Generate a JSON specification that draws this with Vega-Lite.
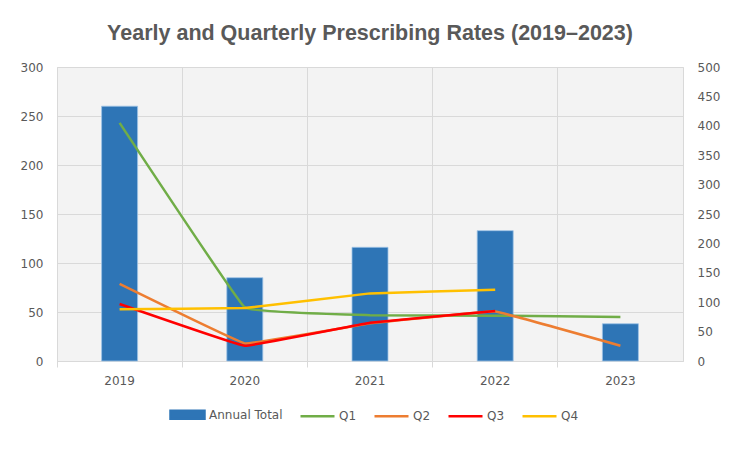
{
  "$schema": "https://vega.github.io/schema/vega-lite/v6.json",
  "width": 626,
  "height": 294,
  "autosize": {"type": "none"},
  "padding": {"left": 57, "top": 67, "right": 57, "bottom": 90},
  "background": "white",
  "title": {
    "text": "Yearly and Quarterly Prescribing Rates (2019–2023)",
    "font": "Liberation Sans",
    "fontSize": 21.5,
    "fontWeight": "bold",
    "color": "#595959",
    "anchor": "middle",
    "offset": 17
  },
  "data": {
    "values": [
      {"year": "2019", "series": "Annual Total", "value": 260},
      {"year": "2020", "series": "Annual Total", "value": 85},
      {"year": "2021", "series": "Annual Total", "value": 116},
      {"year": "2022", "series": "Annual Total", "value": 133},
      {"year": "2023", "series": "Annual Total", "value": 38},
      {"year": "2019", "series": "Q1", "value": 405},
      {"year": "2020", "series": "Q1", "value": 91},
      {"year": "2021", "series": "Q1", "value": 78},
      {"year": "2022", "series": "Q1", "value": 77},
      {"year": "2023", "series": "Q1", "value": 75},
      {"year": "2019", "series": "Q2", "value": 131},
      {"year": "2020", "series": "Q2", "value": 30},
      {"year": "2021", "series": "Q2", "value": 64},
      {"year": "2022", "series": "Q2", "value": 84},
      {"year": "2023", "series": "Q2", "value": 26},
      {"year": "2019", "series": "Q3", "value": 97},
      {"year": "2020", "series": "Q3", "value": 26},
      {"year": "2021", "series": "Q3", "value": 65},
      {"year": "2022", "series": "Q3", "value": 85},
      {"year": "2019", "series": "Q4", "value": 88},
      {"year": "2020", "series": "Q4", "value": 90},
      {"year": "2021", "series": "Q4", "value": 115},
      {"year": "2022", "series": "Q4", "value": 121}
    ]
  },
  "encoding": {
    "x": {
      "field": "year",
      "type": "ordinal",
      "scale": {"paddingInner": 0, "paddingOuter": 0},
      "axis": {
        "title": null,
        "labelAngle": 0,
        "bandPosition": 0,
        "grid": true,
        "gridColor": "#d9d9d9",
        "domainColor": "#d9d9d9",
        "tickColor": "#d9d9d9",
        "tickSize": 6,
        "labelPadding": 8,
        "labelFont": "DejaVu Sans",
        "labelFontSize": 12,
        "labelColor": "#595959"
      }
    },
    "color": {
      "field": "series",
      "type": "nominal",
      "scale": {
        "domain": ["Annual Total", "Q1", "Q2", "Q3", "Q4"],
        "range": ["#2E75B6", "#70AD47", "#ED7D31", "#FF0000", "#FFC000"]
      },
      "legend": {
        "orient": "none",
        "legendX": 112,
        "legendY": 329,
        "direction": "horizontal",
        "title": null,
        "labelFont": "DejaVu Sans",
        "labelFontSize": 12,
        "labelColor": "#595959",
        "labelOffset": 3,
        "symbolSize": 1156,
        "columnPadding": 12,
        "encode": {
          "symbols": {
            "update": {
              "shape": {"signal": "datum.value === 'Annual Total' ? 'M-1,-0.235H1V0.235H-1Z' : 'M-1,0H1'"},
              "fill": {"signal": "datum.value === 'Annual Total' ? '#2E75B6' : 'transparent'"},
              "stroke": {"signal": "datum.value === 'Annual Total' ? 'transparent' : scale('color', datum.value)"},
              "strokeWidth": {"value": 2.5},
              "opacity": {"value": 1}
            }
          }
        }
      }
    }
  },
  "layer": [
    {
      "transform": [{"filter": "datum.series === 'Annual Total'"}],
      "mark": {"type": "bar", "size": 36, "stroke": "#9DC3E6", "strokeWidth": 0.8},
      "encoding": {
        "y": {
          "field": "value",
          "type": "quantitative",
          "scale": {"domain": [0, 300]},
          "axis": {
            "title": null,
            "orient": "left",
            "values": [0, 50, 100, 150, 200, 250, 300],
            "grid": true,
            "gridColor": "#d9d9d9",
            "domain": false,
            "ticks": false,
            "labelPadding": 14,
            "labelFont": "DejaVu Sans",
            "labelFontSize": 12,
            "labelColor": "#595959"
          }
        }
      }
    },
    {
      "transform": [{"filter": "datum.series !== 'Annual Total'"}],
      "mark": {"type": "line", "interpolate": "cardinal", "tension": 0.85, "strokeWidth": 2.5},
      "encoding": {
        "y": {
          "field": "value",
          "type": "quantitative",
          "scale": {"domain": [0, 500]},
          "axis": {
            "title": null,
            "orient": "right",
            "values": [0, 50, 100, 150, 200, 250, 300, 350, 400, 450, 500],
            "grid": false,
            "domain": false,
            "ticks": false,
            "labelPadding": 14,
            "labelFont": "DejaVu Sans",
            "labelFontSize": 12,
            "labelColor": "#595959"
          }
        }
      }
    }
  ],
  "resolve": {"scale": {"y": "independent"}},
  "config": {
    "view": {"fill": "#f3f3f3", "stroke": "#d9d9d9"}
  }
}
